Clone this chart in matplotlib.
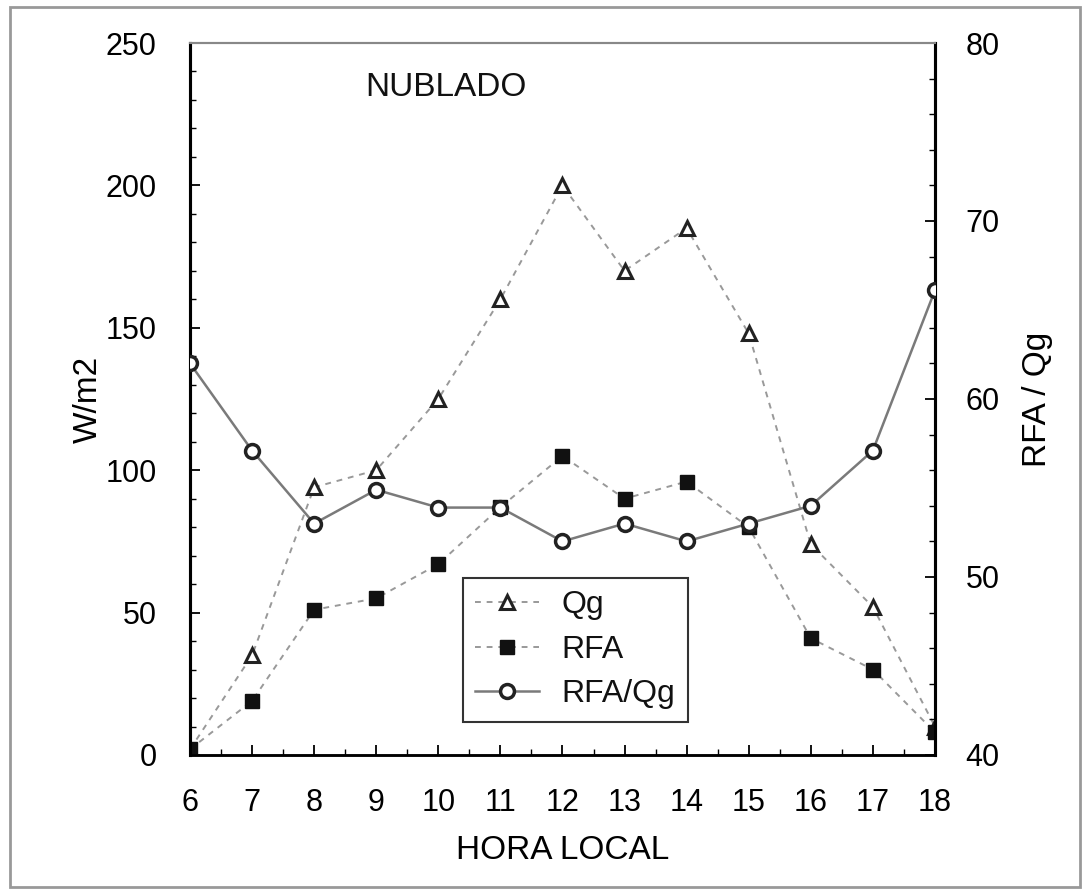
import matplotlib
matplotlib.use("Agg")
import matplotlib.pyplot as plt
from matplotlib.patches import Rectangle
from matplotlib.ticker import MultipleLocator

plt.rcParams['font.family'] = ['Liberation Sans', 'DejaVu Sans']
plt.rcParams['text.color'] = '#111111'

hours = [6, 7, 8, 9, 10, 11, 12, 13, 14, 15, 16, 17, 18]
qg = [2, 35, 94, 100, 125, 160, 200, 170, 185, 148, 74, 52, 10]
rfa = [2, 19, 51, 55, 67, 87, 105, 90, 96, 80, 41, 30, 8]
ratio = [62, 57.1, 53, 54.9, 53.9, 53.9, 52, 53, 52, 53, 54, 57.1, 66.1]

fig = plt.figure(figsize=(10.89, 8.94), dpi=100)
ax = fig.add_axes([0.1745, 0.1555, 0.684, 0.7964])
ax2 = ax.twinx()

l1, = ax.plot(hours, qg, color='#999999', lw=1.4, ls=(0, (3, 3)),
              marker='^', ms=10, mfc='white', mec='#222222', mew=2.2,
              label='Qg', zorder=3)
l2, = ax.plot(hours, rfa, color='#999999', lw=1.4, ls=(0, (3, 3)),
              marker='s', ms=10, mfc='#111111', mec='#111111',
              label='RFA', zorder=3)
l3, = ax2.plot(hours, ratio, color='#7a7a7a', lw=1.8, ls='-',
               marker='o', ms=10, mfc='white', mec='#222222', mew=2.5,
               label='RFA/Qg', zorder=3)

ax.set_xlim(6, 18)
ax.set_ylim(0, 250)
ax2.set_ylim(40, 80)

ax.xaxis.set_major_locator(MultipleLocator(1))
ax.xaxis.set_minor_locator(MultipleLocator(0.5))
ax.yaxis.set_major_locator(MultipleLocator(50))
ax.yaxis.set_minor_locator(MultipleLocator(10))
ax2.yaxis.set_major_locator(MultipleLocator(10))
ax2.yaxis.set_minor_locator(MultipleLocator(2))

ax.tick_params(axis='x', which='major', direction='in', length=7, width=1.3,
               labelsize=22, pad=24, top=False)
ax.tick_params(axis='x', which='minor', direction='in', length=4, width=1.0, top=False)
ax.tick_params(axis='y', which='major', direction='in', length=7, width=1.3,
               labelsize=22, pad=24)
ax.tick_params(axis='y', which='minor', direction='in', length=4, width=1.0)
ax2.tick_params(axis='y', which='major', direction='in', length=7, width=1.3,
                labelsize=22, pad=22)
ax2.tick_params(axis='y', which='minor', direction='in', length=4, width=1.0)

for a in (ax, ax2):
    a.spines['left'].set_linewidth(2.2)
    a.spines['right'].set_linewidth(2.2)
    a.spines['bottom'].set_linewidth(1.8)
    a.spines['top'].set_linewidth(1.5)
    a.spines['top'].set_color('#888888')

ax.set_xlabel('HORA LOCAL', fontsize=24, labelpad=12)
ax.set_ylabel('W/m2', fontsize=24, labelpad=1)
ax2.set_ylabel('RFA / Qg', fontsize=24, labelpad=16, rotation=90)

ax.text(0.235, 0.937, 'NUBLADO', transform=ax.transAxes, fontsize=24,
        ha='left', va='center')

leg = ax2.legend(handles=[l1, l2, l3], loc='upper left',
                 bbox_to_anchor=(0.366, 0.249), fontsize=23,
                 fancybox=False, edgecolor='#333333', framealpha=1,
                 handlelength=2.0, handletextpad=0.7, borderpad=0.4,
                 labelspacing=0.45, borderaxespad=0)
leg.get_frame().set_linewidth(1.5)

fig.patches.append(Rectangle((0.009, 0.008), 0.983, 0.984, transform=fig.transFigure,
                             fill=False, edgecolor='#999999', lw=2))

fig.savefig('out.png', dpi=100)
